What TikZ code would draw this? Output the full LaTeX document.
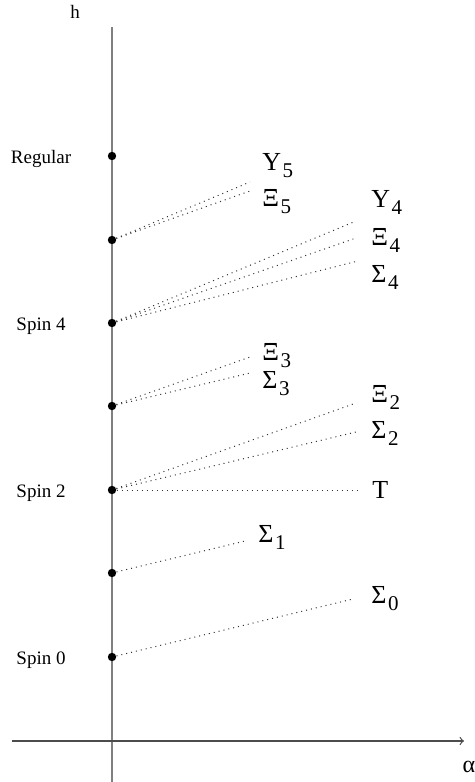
\documentclass[tikz,border=0pt]{standalone}
\usepackage{fontspec}
\setmainfont{Liberation Serif}
\newcommand{\brname}[2]{#1\kern0.06em\raisebox{-0.6ex}{\fontsize{10.5}{10.5}\selectfont #2}}

\begin{document}
\begin{tikzpicture}[x=0.5pt, y=-0.5pt, >=to,
                    every node/.style={font=\fontsize{9.5}{11}\selectfont},
                    level/.style={circle, fill=black, inner sep=0pt, minimum size=4.2pt},
                    branch/.style={dotted, line width=0.5pt, black!80},
                    tag/.style={anchor=base west, inner sep=0pt, font=\fontsize{13}{15}\selectfont}]
  \useasboundingbox (0,0) rectangle (475,782);

  %% axes
  \draw[gray, line width=0.6pt] (112,782) -- (112,27);
  \draw[black!70, line width=0.6pt, ->] (12,741) -- (464,741);
  \node[anchor=base] (hlab) at (75,18) {h};
  \node[font=\fontsize{12}{14}\selectfont] (alab) at (469,767) {α};

  %% levels on the h axis
  \node[level] (reg) at (112,156) {};
  \node[level] (d5)  at (112,240) {};
  \node[level] (s4)  at (112,323) {};
  \node[level] (d3)  at (112,406) {};
  \node[level] (s2)  at (112,490) {};
  \node[level] (d1)  at (112,573) {};
  \node[level] (s0)  at (112,657) {};

  \node[anchor=base] (lreg) at (41,163) {Regular};
  \node[anchor=base] (ls4)  at (41,330) {Spin 4};
  \node[anchor=base] (ls2)  at (41,497) {Spin 2};
  \node[anchor=base] (ls0)  at (41,664) {Spin 0};

  %% end points of the branches
  \coordinate (eY5) at (250,182);
  \coordinate (eX5) at (250,191);
  \coordinate (eY4) at (356,221);
  \coordinate (eX4) at (356,238);
  \coordinate (eS4) at (358,261);
  \coordinate (eX3) at (250,357);
  \coordinate (eS3) at (250,373);
  \coordinate (eX2) at (356,403);
  \coordinate (eS2) at (356,432);
  \coordinate (eT)  at (358,490);
  \coordinate (eS1) at (245,541);
  \coordinate (eS0) at (353,599);

  \draw[branch] (d5) -- (eY5);
  \draw[branch] (d5) -- (eX5);
  \draw[branch] (s4) -- (eY4);
  \draw[branch] (s4) -- (eX4);
  \draw[branch] (s4) -- (eS4);
  \draw[branch] (d3) -- (eX3);
  \draw[branch] (d3) -- (eS3);
  \draw[branch] (s2) -- (eX2);
  \draw[branch] (s2) -- (eS2);
  \draw[branch] (s2) -- (eT);
  \draw[branch] (d1) -- (eS1);
  \draw[branch] (s0) -- (eS0);

  %% branch names
  \node[tag] (tY5) at (262,170) {\brname{Y}{5}};
  \node[tag] (tX5) at (262,206) {\brname{Ξ}{5}};
  \node[tag] (tY4) at (371,207) {\brname{Y}{4}};
  \node[tag] (tX4) at (371,245) {\brname{Ξ}{4}};
  \node[tag] (tS4) at (371,282) {\brname{Σ}{4}};
  \node[tag] (tX3) at (262,360) {\brname{Ξ}{3}};
  \node[tag] (tS3) at (262,388) {\brname{Σ}{3}};
  \node[tag] (tX2) at (371,402) {\brname{Ξ}{2}};
  \node[tag] (tS2) at (371,438) {\brname{Σ}{2}};
  \node[tag] (tT)  at (372,498) {T};
  \node[tag] (tS1) at (258,542) {\brname{Σ}{1}};
  \node[tag] (tS0) at (371,603) {\brname{Σ}{0}};

\end{tikzpicture}
\end{document}
